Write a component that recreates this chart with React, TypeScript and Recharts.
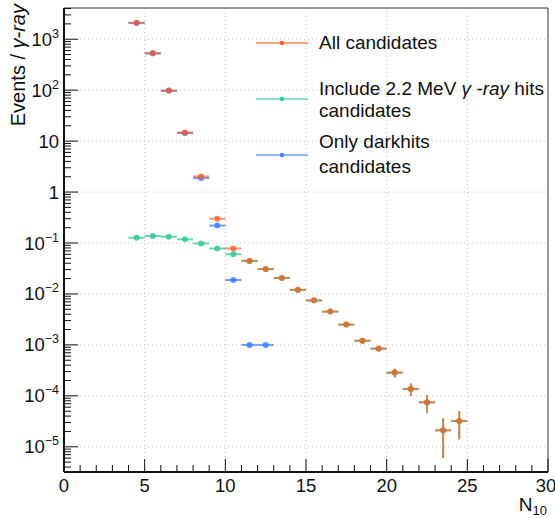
import { ScatterChart, Scatter, XAxis, YAxis, CartesianGrid, ErrorBar, ReferenceArea } from 'recharts'

// bin centres of N10, each bin is 1 wide
const bins = [4.5, 5.5, 6.5, 7.5, 8.5, 9.5, 10.5, 11.5, 12.5, 13.5, 14.5, 15.5, 16.5, 17.5, 18.5, 19.5, 20.5, 21.5, 22.5, 23.5, 24.5]
const halfWidth = 0.5

const allValues = [2100, 530, 98, 14.7, 2.02, 0.3, 0.078, 0.045, 0.031, 0.0206, 0.0121, 0.0075, 0.0045, 0.0025, 0.00121, 0.00085, 0.000286, 0.000137, 0.000075, 0.000021, 0.000032]
const allErrors = [0, 0, 0, 0, 0, 0, 0, 0, 0, 0, 0, 0, 0, 0.0001, 0.00008, 0.00007, 0.000056, 0.000038, 0.0000285, 0.000015, 0.000018]

const gammaValues = [0.127, 0.137, 0.133, 0.118, 0.098, 0.078, 0.06, 0.044, 0.0305, 0.0205, 0.012, 0.0074, 0.0045, 0.0025, 0.0012, 0.00084, 0.000284, 0.000136, 0.000074, 0.000021, 0.000032]
const gammaErrors = allErrors

const darkBins = [4.5, 5.5, 6.5, 7.5, 8.5, 9.5, 10.5, 11.5, 12.5]
const darkValues = [2090, 528, 97, 14.5, 1.88, 0.22, 0.0188, 0.001, 0.001]

const yMajor = [1e-5, 1e-4, 1e-3, 1e-2, 1e-1, 1, 10, 100, 1000]
const yDomain = [3.2e-6, 4100]
const xTicks = Array.from({ length: 31 }, (_, i) => i)
const xGrid = [5, 10, 15, 20, 25]

const ORANGE = '#ff5a1f'
const TEAL = '#33c996'
const BLUE = '#3f7fff'
const FONT = '"Liberation Sans", Arial, Helvetica, sans-serif'

// log axis: minor ticks 2..9 inside each decade
const yTicks: number[] = [4e-6, 5e-6, 6e-6, 7e-6, 8e-6, 9e-6]
yMajor.forEach((d) => {
  for (let m = 1; m <= 9; m++) {
    const v = d * m
    if (v >= yDomain[0] && v <= yDomain[1]) yTicks.push(v)
  }
})

const toRows = (xs: number[], ys: number[], es?: number[]) =>
  xs.map((x, i) => ({ x, y: ys[i], xe: halfWidth, ye: es ? es[i] : 0 }))

const allData = toRows(bins, allValues, allErrors)
const gammaData = toRows(bins, gammaValues, gammaErrors)
const darkData = toRows(darkBins, darkValues)

function isMajor(v: number) {
  return yMajor.some((m) => Math.abs(v / m - 1) < 1e-6)
}

function YTick(props: any) {
  const { x, y, payload } = props
  const v = payload.value
  const major = isMajor(v)
  const exp = Math.round(Math.log10(v))
  return (
    <g>
      <line x1={x} x2={x + (major ? 14 : 7)} y1={y} y2={y} stroke="#111" strokeWidth={1} />
      {major && (
        <text x={x - 5} y={y + 6.5} textAnchor="end" fontSize={18.5} fontFamily={FONT} fill="#111">
          {exp === 0 ? '1' : exp === 1 ? '10' : (
            <>
              <tspan>10</tspan>
              <tspan dy={-8} fontSize={12.5}>{exp < 0 ? '\u2212' + -exp : exp}</tspan>
            </>
          )}
        </text>
      )}
    </g>
  )
}

function XTick(props: any) {
  const { x, y, payload } = props
  const major = payload.value % 5 === 0
  return (
    <g>
      <line x1={x} x2={x} y1={y} y2={y - (major ? 13 : 7)} stroke="#111" strokeWidth={1} />
      {major && (
        <text x={payload.value === 30 ? x - 2 : x} y={y + 20} textAnchor="middle" fontSize={18.5} fontFamily={FONT} fill="#111">
          {payload.value}
        </text>
      )}
    </g>
  )
}

const marker = (color: string, opacity: number) => (p: any) =>
  <circle cx={p.cx} cy={p.cy} r={3} fill={color} fillOpacity={opacity} />

const legendRows = [
  { color: ORANGE, y: 43, lines: [{ t: 'All candidates', b: 49 }] },
  { color: TEAL, y: 99, lines: [{ t: 'gamma', b: 95 }, { t: 'candidates', b: 117 }] },
  { color: BLUE, y: 155, lines: [{ t: 'Only darkhits', b: 148 }, { t: 'candidates', b: 173 }] },
]

export default function App() {
  return (
    <div style={{ position: 'absolute', left: 0, top: 0, width: 555, height: 518, background: '#fff' }}>
      <ScatterChart width={555} height={518} margin={{ top: 8, right: 7, left: 0, bottom: 0 }}>
        <CartesianGrid horizontalValues={yMajor} verticalValues={xGrid} stroke="#c4c4c4" strokeDasharray="1 3" />
        <XAxis
          type="number"
          dataKey="x"
          domain={[0, 30]}
          ticks={xTicks}
          interval={0}
          allowDataOverflow
          height={46}
          tickSize={0}
          tickMargin={0}
          tickLine={false}
          axisLine={{ stroke: '#111', strokeWidth: 2 }}
          tick={XTick}
        />
        <YAxis
          type="number"
          dataKey="y"
          scale="log"
          domain={yDomain}
          ticks={yTicks}
          interval={0}
          allowDataOverflow
          width={64}
          tickSize={0}
          tickMargin={0}
          tickLine={false}
          axisLine={{ stroke: '#111', strokeWidth: 2 }}
          tick={YTick}
        />
        <ReferenceArea x1={0} x2={30} y1={yDomain[0]} y2={yDomain[1]} fill="none" stroke="#333" strokeWidth={1} ifOverflow="visible" />
        <Scatter data={darkData} isAnimationActive={false} shape={marker(BLUE, 0.85)}>
          <ErrorBar dataKey="xe" direction="x" width={0} stroke={BLUE} strokeWidth={2} strokeOpacity={0.75} />
        </Scatter>
        <Scatter data={gammaData} isAnimationActive={false} shape={marker(TEAL, 0.85)}>
          <ErrorBar dataKey="xe" direction="x" width={0} stroke={TEAL} strokeWidth={2} strokeOpacity={0.75} />
          <ErrorBar dataKey="ye" direction="y" width={0} stroke={TEAL} strokeWidth={2} strokeOpacity={0.75} />
        </Scatter>
        <Scatter data={allData} isAnimationActive={false} shape={marker(ORANGE, 0.75)}>
          <ErrorBar dataKey="xe" direction="x" width={0} stroke={ORANGE} strokeWidth={2} strokeOpacity={0.65} />
          <ErrorBar dataKey="ye" direction="y" width={0} stroke={ORANGE} strokeWidth={2} strokeOpacity={0.65} />
        </Scatter>
      </ScatterChart>
      <svg width={555} height={518} style={{ position: 'absolute', left: 0, top: 0, pointerEvents: 'none' }}>
        <text transform="translate(25,4) rotate(-90)" textAnchor="end" fontSize={20} fontFamily={FONT} fill="#111">
          Events / <tspan fontStyle="italic">γ</tspan><tspan fontStyle="italic">-ray</tspan>
        </text>
        <text x={547} y={511} textAnchor="end" fontSize={19} fontFamily={FONT} fill="#111">
          N<tspan dy={4} fontSize={13}>10</tspan>
        </text>
        {legendRows.map((r) => (
          <g key={r.color}>
            <line x1={256} x2={308} y1={r.y} y2={r.y} stroke={r.color} strokeOpacity={0.75} strokeWidth={1.5} />
            <circle cx={282} cy={r.y} r={2.2} fill={r.color} />
            {r.lines.map((l) => (
              <text key={l.b} x={319} y={l.b} fontSize={19} fontFamily={FONT} fill="#111">
                {l.t === 'gamma' ? (
                  <>
                    Include 2.2 MeV <tspan fontStyle="italic">γ -ray</tspan> hits
                  </>
                ) : l.t}
              </text>
            ))}
          </g>
        ))}
      </svg>
    </div>
  )
}
